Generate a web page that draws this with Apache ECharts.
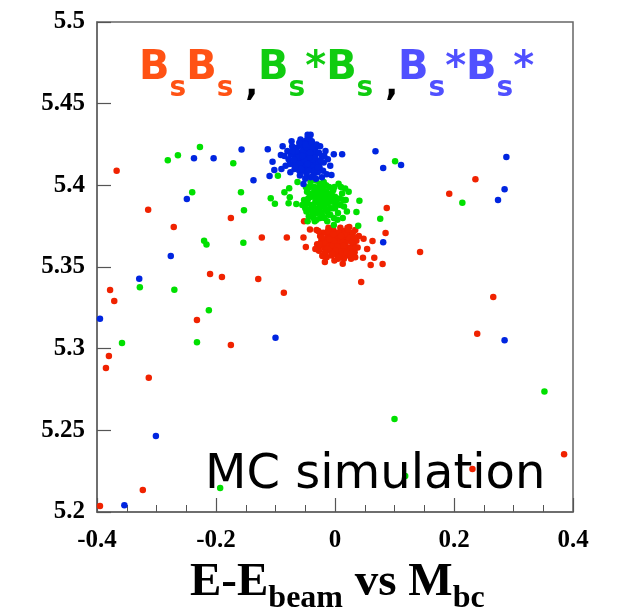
<!DOCTYPE html>
<html><head><meta charset="utf-8">
<script src="https://cdn.jsdelivr.net/npm/echarts@6/dist/echarts.min.js"></script>
<style>html,body{margin:0;padding:0;background:#fff}#c{width:618px;height:613px}</style>
</head><body><div id="c"></div>
<script>
// Tick labels
const xTicks = [-0.4, -0.2, 0, 0.2, 0.4];
const yTicks = [5.2, 5.25, 5.3, 5.35, 5.4, 5.45, 5.5];

// BsBs (red): scattered + cluster
const bsbs = [
[-0.367,5.409],[-0.314,5.385],[-0.271,5.3745],[-0.175,5.380],[-0.123,5.368],[-0.081,5.368],[-0.052,5.378],[-0.042,5.373],[-0.031,5.3727],[-0.049,5.3622],
[-0.210,5.3457],[-0.190,5.3439],[-0.129,5.3427],[-0.378,5.3359],[-0.371,5.3292],[-0.086,5.3343],[-0.232,5.3176],[-0.175,5.3022],[-0.380,5.2955],[-0.385,5.2882],
[-0.313,5.2822],[-0.323,5.2135],[-0.395,5.2037],[0.087,5.3861],[0.085,5.3708],[0.063,5.3659],[0.143,5.3592],[0.080,5.3518],[0.060,5.3512],[0.044,5.3408],
[0.192,5.3949],[0.236,5.4037],[0.266,5.3316],[0.239,5.3092],[0.231,5.2263],[0.385,5.2354],
[0.054,5.361],[0.048,5.3673],[0.066,5.3557],[0.047,5.3557],[-0.021,5.3567],[-0.053,5.368],[0.034,5.3727],[0.024,5.3745],
[0.003,5.365],[-0.005,5.367],[0.010,5.363],[-0.012,5.369],[0.017,5.367],[-0.018,5.362],[0.002,5.371],[0.008,5.358],[-0.008,5.360],[0.024,5.362],
[-0.023,5.366],[0.014,5.372],[-0.003,5.373],[0.028,5.368],[-0.027,5.360],[-0.014,5.356],[0.005,5.355],[0.020,5.357],[-0.020,5.371],[0.031,5.364],
[0.000,5.362],[-0.010,5.364],[0.012,5.368],[0.006,5.360],[-0.016,5.358],[0.022,5.370],[0.033,5.359],[-0.025,5.369],[-0.006,5.357],[0.015,5.355],
[-0.001,5.354],[0.027,5.355],[-0.030,5.364],[0.036,5.366],[-0.011,5.374],[0.009,5.374],[0.038,5.362],[-0.033,5.361],[0.019,5.362],[-0.004,5.363],
[0.007,5.367],[-0.015,5.366],[0.025,5.366],[0.011,5.361],[-0.021,5.357],[0.030,5.371],[-0.007,5.370],[0.016,5.359],[0.001,5.358],[0.040,5.369],
[-0.028,5.372],[0.021,5.374],[-0.017,5.353],[0.013,5.352],[0.034,5.356],[-0.002,5.368],[0.004,5.369],[-0.024,5.363],[0.018,5.365],
[0.004,5.363],[0.009,5.366],[-0.002,5.366],[0.013,5.365],[-0.009,5.367],[0.018,5.361],[-0.013,5.361],[0.023,5.368],[0.001,5.360],[-0.019,5.365],
[0.027,5.361],[0.006,5.371],[-0.004,5.358],[0.016,5.370],[0.011,5.357],[-0.022,5.368],[0.029,5.365],[-0.008,5.371],[0.020,5.359],[0.032,5.368],
[-0.012,5.372],[0.007,5.356],[-0.026,5.364],[0.035,5.362],[0.014,5.363],[-0.003,5.370],[0.022,5.373],[-0.017,5.359],[0.026,5.358],[0.010,5.369]
];

// Bs*Bs (green): scattered + cluster
const bsStarBs = [
[-0.227,5.4235],[-0.264,5.4184],[-0.281,5.4153],[-0.171,5.4135],[-0.240,5.3957],[-0.158,5.3957],[-0.153,5.3847],[-0.220,5.3661],[-0.216,5.3637],[-0.154,5.3649],
[-0.328,5.3376],[-0.270,5.3361],[-0.212,5.3235],[-0.358,5.3035],[-0.232,5.3039],[-0.193,5.2147],[-0.096,5.4059],[-0.108,5.3921],[-0.101,5.3888],[-0.085,5.3957],
[-0.077,5.3982],[-0.076,5.3927],[-0.078,5.3890],[-0.065,5.3886],[-0.063,5.4020],[0.041,5.3906],[0.036,5.3837],[0.076,5.3796],[0.039,5.3753],[-0.002,5.3757],
[0.101,5.4147],[0.214,5.3894],[0.100,5.2569],[0.352,5.2737],[0.118,5.2220],
[-0.020,5.391],[-0.028,5.393],[-0.012,5.389],[-0.035,5.396],[-0.005,5.394],[-0.040,5.388],[-0.024,5.398],[-0.016,5.385],[-0.031,5.383],[0.002,5.388],
[-0.045,5.392],[-0.010,5.399],[-0.026,5.401],[0.008,5.392],[-0.050,5.386],[-0.036,5.380],[-0.018,5.380],[0.005,5.383],[-0.042,5.399],[-0.003,5.397],
[-0.022,5.387],[-0.033,5.390],[-0.014,5.393],[-0.008,5.386],[-0.038,5.384],[0.012,5.395],[0.015,5.387],[-0.047,5.396],[-0.029,5.386],[-0.011,5.382],
[-0.025,5.380],[-0.002,5.380],[-0.044,5.381],[0.010,5.399],[-0.019,5.402],[-0.032,5.403],[-0.052,5.391],[0.018,5.391],[-0.007,5.391],[-0.039,5.393],
[-0.015,5.396],[-0.027,5.389],[0.000,5.386],[-0.048,5.384],[0.020,5.384],[-0.034,5.378],[-0.013,5.378],[-0.041,5.402],[0.006,5.401],[-0.023,5.394],
[-0.055,5.388],[0.023,5.396],[-0.017,5.388],[-0.030,5.398],[-0.004,5.390],[-0.046,5.378],[0.013,5.380],
[-0.021,5.395],[-0.017,5.392],[-0.030,5.392],[-0.009,5.395],[-0.037,5.387],[-0.025,5.384],[-0.004,5.386],[-0.043,5.395],[-0.013,5.384],[0.003,5.391],
[-0.035,5.399],[-0.020,5.399],[0.009,5.388],[-0.028,5.396],[-0.046,5.389],[-0.001,5.399],[0.014,5.391],[-0.039,5.381],[-0.022,5.382],[-0.008,5.382],
[-0.031,5.379],[0.004,5.379],[-0.015,5.400],[-0.049,5.399],[0.017,5.398],[-0.024,5.390],[-0.011,5.391],[-0.034,5.394],[0.000,5.393],[-0.044,5.385]
];

// Bs*Bs* (blue): scattered + cluster
const bsStarBsStar = [
[-0.157,5.4219],[-0.204,5.4166],[-0.237,5.4166],[-0.137,5.4031],[-0.249,5.3916],[-0.276,5.3567],[-0.329,5.3428],[-0.395,5.3183],[-0.113,5.4221],[-0.105,5.4145],
[-0.102,5.4094],[-0.110,5.4057],[-0.091,5.4186],[-0.100,5.3067],[-0.301,5.2465],[-0.354,5.2041],[-0.002,5.4190],[0.012,5.4190],[-0.014,5.4068],[-0.006,5.4063],
[-0.053,5.4008],[0.068,5.4208],[0.081,5.4106],[0.111,5.4125],[0.288,5.4173],[0.285,5.3976],[0.274,5.391],[0.081,5.3651],[0.285,5.3051],[-0.044,5.4298],
[-0.047,5.416],[-0.052,5.418],[-0.040,5.414],[-0.058,5.420],[-0.035,5.419],[-0.062,5.415],[-0.044,5.422],[-0.050,5.411],[-0.038,5.409],[-0.066,5.418],
[-0.030,5.415],[-0.055,5.424],[-0.042,5.426],[-0.070,5.413],[-0.026,5.411],[-0.060,5.409],[-0.048,5.407],[-0.033,5.423],[-0.074,5.419],[-0.022,5.418],
[-0.064,5.423],[-0.053,5.413],[-0.045,5.418],[-0.039,5.420],[-0.057,5.416],[-0.068,5.410],[-0.029,5.408],[-0.051,5.427],[-0.046,5.429],[-0.043,5.429],
[-0.078,5.416],[-0.080,5.421],[-0.019,5.414],[-0.016,5.421],[-0.036,5.406],[-0.041,5.405],[-0.059,5.406],[-0.072,5.424],[-0.025,5.424],[-0.034,5.413],
[-0.049,5.420],[-0.061,5.419],[-0.054,5.409],[-0.037,5.416],[-0.067,5.414],[-0.031,5.420],[-0.044,5.411],[-0.056,5.426],[-0.063,5.412],[-0.028,5.413],
[-0.083,5.412],[-0.085,5.418],[-0.012,5.416],[-0.020,5.409],[-0.075,5.408],[-0.050,5.404],[-0.040,5.425],[-0.058,5.428],
[-0.088,5.424],[-0.090,5.410],[-0.008,5.412],[-0.032,5.404],[-0.022,5.405],[-0.073,5.427],
[-0.048,5.414],[-0.043,5.417],[-0.054,5.421],[-0.038,5.423],[-0.059,5.413],[-0.065,5.421],[-0.033,5.417],[-0.027,5.420],[-0.047,5.423],[-0.052,5.416],
[-0.041,5.412],[-0.062,5.417],[-0.036,5.411],[-0.057,5.410],[-0.069,5.416],[-0.024,5.415],[-0.045,5.409],[-0.050,5.425],[-0.031,5.425],[-0.071,5.421],
[-0.076,5.413],[-0.060,5.426],[-0.018,5.418],[-0.039,5.427],[-0.055,5.418],[-0.046,5.413],[-0.034,5.409],[-0.066,5.411],[-0.042,5.420],[-0.029,5.411],
[-0.046,5.431],[-0.041,5.431]
];

const chart = echarts.init(document.getElementById('c'), null, {renderer:'canvas'});
const labelFont = {fontFamily:'Liberation Serif', fontWeight:'bold', fontSize:25, color:'#000'};
const sans = "'DejaVu Sans',sans-serif";
const serif = "'Liberation Serif','DejaVu Serif',serif";
const RED = '#ff5214', GRN = '#10cc10', BLU = '#5050ff';

function mainTok(c){return {fontFamily:sans, fontWeight:'bold', fontSize:40, fill:c, lineHeight:46, verticalAlign:'top'};}
function subTok(c){return {fontFamily:sans, fontWeight:'bold', fontSize:28, fill:c, lineHeight:29, verticalAlign:'bottom'};}

chart.setOption({
  animation:false,
  backgroundColor:'#fff',
  grid:{left:97, right:45, top:22, bottom:101, show:true, borderColor:'#666', borderWidth:1.5, containLabel:false},
  xAxis:{type:'value', min:xTicks[0], max:xTicks[xTicks.length-1], interval:0.2,
    axisLine:{show:true, onZero:false, lineStyle:{color:'#666', width:1.5}},
    axisTick:{show:true, inside:true, length:14, lineStyle:{color:'#555', width:1.2}},
    minorTick:{show:true, splitNumber:4, length:7, lineStyle:{color:'#555', width:1}},
    splitLine:{show:false},
    axisLabel:Object.assign({margin:16, formatter:v=>String(+v.toFixed(2))}, labelFont)},
  yAxis:{type:'value', min:yTicks[0], max:yTicks[yTicks.length-1], interval:0.05,
    axisLine:{show:true, onZero:false, lineStyle:{color:'#666', width:1.5}},
    axisTick:{show:true, inside:true, length:14, lineStyle:{color:'#555', width:1.2}},
    splitLine:{show:false},
    axisLabel:Object.assign({margin:12, formatter:v=>String(+v.toFixed(2))}, labelFont)},
  series:[
    {type:'scatter', name:'BsBs', data:bsbs, symbolSize:6.5, itemStyle:{color:'#f02200', opacity:1}},
    {type:'scatter', name:'Bs*Bs', data:bsStarBs, symbolSize:6.5, itemStyle:{color:'#00e000', opacity:1}},
    {type:'scatter', name:'Bs*Bs*', data:bsStarBsStar, symbolSize:6.5, itemStyle:{color:'#0025e0', opacity:1}}
  ],
  graphic:[
    {type:'text', left:139, top:49, z:100, style:{
      text:'{r|B}{rs|s}{r|B}{rs|s}{k| ,}{g|B}{gs|s}{g|*B}{gs|s}{k| ,}{b|B}{bs|s}{b|*B}{bs|s}{b|*}',
      rich:{
        r:mainTok(RED), rs:subTok(RED), g:mainTok(GRN), gs:subTok(GRN), b:mainTok(BLU), bs:subTok(BLU),
        k:{fontFamily:sans, fontWeight:'bold', fontSize:34, fill:'#000', lineHeight:54, verticalAlign:'bottom'}
      }}},
    {type:'text', left:205, top:452, z:100, style:{text:'MC simulation', fontFamily:sans, fontSize:48, fill:'#000'}},
    {type:'text', left:190, top:559, z:100, style:{
      text:'{m|E-E}{s|beam}{z| }{m|vs M}{s|bc}',
      rich:{
        m:{fontFamily:serif, fontWeight:'bold', fontSize:47, fill:'#000', lineHeight:48, verticalAlign:'top'},
        s:{fontFamily:serif, fontWeight:'bold', fontSize:32, fill:'#000', lineHeight:32, verticalAlign:'bottom'},
        z:{fontFamily:serif, fontWeight:'bold', fontSize:47, fill:'#000', lineHeight:56, verticalAlign:'bottom'}
      }}}
  ]
});
</script></body></html>
